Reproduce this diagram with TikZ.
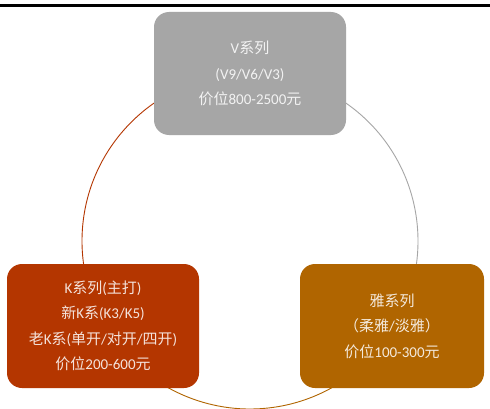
\documentclass[tikz,border=0pt]{standalone}
\usepackage{fontspec}
\setmainfont{Carlito}
\newfontfamily\zhfont{Noto Sans CJK SC}
\newcommand{\zh}[1]{{\zhfont #1}}
\definecolor{boxgrey}{HTML}{A6A6A6}
\definecolor{boxred}{HTML}{B43600}
\definecolor{boxbrown}{HTML}{B06500}
\tikzset{
  series/.style={rounded corners=15pt, inner sep=0pt, align=center,
    font=\fontsize{15}{25.5}\selectfont, text=white, text opacity=0.86},
  ring/.style={line width=0.9pt}
}
\begin{document}
\begin{tikzpicture}[x=1pt,y=1pt]
\useasboundingbox (0,0) rectangle (490,408);
\fill[white] (0,0) rectangle (490,408);
% header rule
\fill[black] (0,401.3) rectangle (490,404.2);
% cycle ring, one colour per segment
\coordinate (o) at (250,167);
\begin{scope}
\clip (0,0) rectangle (490,408);
\draw[ring, boxred] ([shift={(90:168)}]o) arc[start angle=90, end angle=220, radius=168];
\draw[ring, boxbrown] ([shift={(220:168)}]o) arc[start angle=220, end angle=320, radius=168];
\draw[ring, boxgrey] ([shift={(320:168)}]o) arc[start angle=320, end angle=450, radius=168];
\end{scope}
% series boxes
\node[series, fill=boxgrey, minimum width=192pt, minimum height=123pt] (v) at (250,334.5)
  {V\zh{系列}\\(V9/V6/V3)\\\zh{价位}800-2500\zh{元}};
\node[series, fill=boxred, minimum width=192pt, minimum height=124pt] (k) at (103,82)
  {K\zh{系列}(\zh{主打})\\\zh{新}K\zh{系}(K3/K5)\\\zh{老}K\zh{系}(\zh{单开}/\zh{对开}/\zh{四开})\\\zh{价位}200-600\zh{元}};
\node[series, fill=boxbrown, minimum width=184pt, minimum height=124pt] (y) at (392,82)
  {\zh{雅系列}\\\zh{（柔雅}/\zh{淡雅）}\\\zh{价位}100-300\zh{元}};
\end{tikzpicture}
\end{document}
